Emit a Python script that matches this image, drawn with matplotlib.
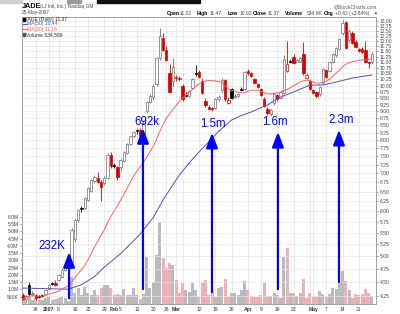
import matplotlib
matplotlib.use('Agg')
import matplotlib.pyplot as plt
import pandas as pd
from matplotlib.ticker import NullLocator, FixedLocator
from matplotlib.lines import Line2D

plt.rcParams['font.family'] = ['Liberation Sans', 'DejaVu Sans']

# daily OHLC for JADE, 19-Dec-2006 .. 25-May-2007 (bar index 0..107)
opens = [4.26, 4.20, 4.44, 4.28, 4.27, 4.25, 4.26, 4.28, 4.37, 4.48,
         4.48, 4.54, 4.60, 4.72, 4.80, 4.88, 5.35, 5.80, 6.09, 6.08,
         6.28, 6.52, 6.78, 6.88, 6.76, 6.72, 6.88, 7.54, 7.24, 7.18,
         7.18, 7.36, 7.60, 7.88, 8.14, 8.33, 8.33, 8.20, 9.00, 9.35,
         9.55, 10.05, 11.20, 12.15, 11.55, 10.52, 10.20, 10.30, 10.28, 9.98,
         9.63, 9.60, 9.90, 10.52, 10.55, 10.20, 9.38, 9.18, 9.12, 9.12,
         9.45, 9.80, 10.22, 9.32, 9.85, 9.55, 9.60, 9.86, 9.85, 10.62,
         10.50, 10.25, 10.08, 9.85, 9.45, 9.10, 8.92, 9.30, 9.62, 9.50,
         9.70, 10.60, 11.05, 11.25, 11.02, 11.02, 11.35, 10.30, 10.20, 9.80,
         9.72, 9.65, 10.10, 10.65, 10.60, 11.00, 11.30, 11.60, 12.40, 12.95,
         12.03, 12.40, 11.95, 11.62, 11.58, 11.55, 11.02, 11.02]
highs = [4.30, 4.27, 4.50, 4.33, 4.29, 4.27, 4.29, 4.37, 4.46, 4.50,
         4.53, 4.64, 4.76, 4.82, 4.90, 5.60, 5.82, 6.05, 6.12, 6.36,
         6.62, 6.84, 6.95, 7.05, 6.80, 6.92, 7.60, 7.62, 7.30, 7.22,
         7.42, 7.65, 7.92, 8.16, 8.32, 8.38, 8.40, 8.65, 9.38, 9.65,
         10.05, 11.25, 12.65, 12.40, 11.75, 10.90, 11.20, 10.45, 10.40, 10.05,
         9.75, 9.82, 10.30, 10.85, 10.65, 10.30, 9.50, 9.22, 9.16, 9.50,
         9.62, 10.30, 10.28, 9.55, 9.90, 9.65, 9.70, 9.92, 10.60, 10.70,
         10.55, 10.30, 10.12, 9.90, 9.55, 9.15, 9.10, 9.70, 9.68, 9.80,
         11.30, 12.00, 11.15, 11.35, 11.15, 11.25, 11.95, 10.50, 10.25, 9.85,
         9.76, 10.00, 10.75, 10.70, 11.05, 11.40, 11.70, 12.15, 13.05, 13.00,
         12.60, 12.50, 12.05, 11.66, 11.70, 12.00, 11.06, 11.47]
lows = [4.18, 4.18, 4.25, 4.25, 4.19, 4.22, 4.24, 4.27, 4.35, 4.44,
        4.43, 4.52, 4.58, 4.70, 4.76, 4.85, 5.30, 5.75, 5.98, 6.05,
        6.25, 6.50, 6.72, 6.72, 6.25, 6.68, 6.85, 7.15, 7.15, 6.80,
        7.10, 7.32, 7.56, 7.85, 8.10, 8.22, 8.10, 8.15, 8.95, 9.30,
        9.45, 10.00, 11.10, 11.50, 11.05, 9.70, 10.00, 10.20, 10.20, 9.40,
        9.55, 9.55, 9.85, 10.40, 10.30, 9.65, 9.15, 9.05, 9.02, 9.08,
        9.40, 9.75, 9.40, 9.28, 9.45, 9.50, 9.56, 9.78, 9.80, 10.45,
        10.35, 10.10, 9.90, 9.58, 9.15, 8.88, 8.85, 9.25, 9.40, 9.45,
        9.65, 10.55, 10.95, 10.90, 10.98, 10.98, 10.45, 10.25, 9.82, 9.65,
        9.52, 9.60, 10.05, 10.30, 10.55, 10.95, 11.25, 11.55, 12.30, 11.60,
        11.95, 11.85, 11.65, 11.45, 11.40, 10.95, 10.75, 10.92]
closes = [4.20, 4.25, 4.28, 4.31, 4.21, 4.24, 4.25, 4.36, 4.45, 4.46,
          4.44, 4.63, 4.73, 4.80, 4.86, 5.55, 5.78, 6.02, 6.06, 6.33,
          6.58, 6.80, 6.90, 6.76, 6.62, 6.88, 7.54, 7.20, 7.22, 6.90,
          7.38, 7.62, 7.90, 8.14, 8.28, 8.30, 8.15, 8.60, 9.34, 9.60,
          10.00, 11.20, 12.25, 11.55, 11.08, 9.75, 10.80, 10.36, 10.33, 9.45,
          9.60, 9.78, 10.25, 10.48, 10.35, 9.70, 9.22, 9.10, 9.08, 9.45,
          9.56, 10.22, 9.45, 9.42, 9.52, 9.60, 9.66, 9.83, 10.55, 10.50,
          10.40, 10.12, 9.95, 9.62, 9.20, 8.95, 9.05, 9.65, 9.45, 9.72,
          11.15, 10.90, 11.00, 10.97, 11.08, 11.18, 10.52, 10.45, 9.85, 9.70,
          9.58, 9.95, 10.70, 10.35, 11.00, 11.35, 11.65, 12.10, 12.90, 11.65,
          12.50, 11.88, 11.70, 11.50, 11.45, 11.00, 10.95, 11.37]
# volume, millions of shares
volume = [0.60, 0.35, 0.55, 0.30, 0.45, 0.25, 0.30, 0.40, 0.45, 0.30,
          0.35, 0.40, 0.50, 0.40, 0.23, 1.85, 0.75, 1.10, 0.60, 1.15,
          0.75, 0.60, 0.95, 0.60, 1.10, 1.30, 1.30, 1.10, 0.60, 0.70,
          0.60, 1.00, 0.60, 0.60, 1.10, 0.60, 0.35, 0.70, 3.25, 1.10,
          1.50, 3.35, 5.65, 3.15, 2.45, 2.80, 2.70, 1.65, 0.75, 1.45,
          0.96, 0.83, 1.45, 0.96, 0.50, 1.45, 1.65, 0.60, 0.90, 0.50,
          1.10, 1.20, 1.70, 0.50, 0.75, 0.78, 0.60, 0.96, 1.60, 0.96,
          0.55, 0.50, 0.50, 0.60, 1.45, 0.55, 0.55, 0.75, 0.60, 0.40,
          3.25, 3.85, 0.75, 0.75, 0.55, 0.75, 1.70, 0.40, 0.75, 0.55,
          0.50, 0.90, 0.70, 0.50, 0.70, 1.10, 1.00, 1.50, 2.30, 1.55,
          0.95, 0.40, 0.70, 0.60, 0.70, 1.00, 0.75, 0.53]

ma50_idx = [0, 7, 14, 18, 22, 25, 30, 33, 36, 40, 43, 46, 48, 51, 54, 57, 60,
            64, 67, 70, 75, 79, 83, 88, 92, 96, 101, 107]
ma50 = [4.39, 4.38, 4.37, 4.45, 4.60, 4.78, 5.05, 5.25, 5.47, 5.85, 6.28, 6.68,
        6.95, 7.30, 7.63, 7.95, 8.30, 8.69, 8.85, 8.98, 9.24, 9.54, 9.74, 10.02,
        10.02, 10.14, 10.31, 10.44]

tick_idx = [4, 8, 11, 16, 20, 25, 28, 30, 35, 40, 44, 47, 54, 59, 64, 69, 73, 78, 83, 89, 93, 98, 103]
tick_lab = ['26', '2007', '8', '16', '22', '29', 'Feb', '5', '12', '20', '26', 'Mar',
            '12', '19', '26', 'Apr', '9', '16', '23', 'May', '7', '14', '21']
month_lab = ['2007', 'Feb', 'Mar', 'Apr', 'May']
week_idx = [49, 88]

price_ticks = [4.25 + 0.25 * k for k in range(36)]
vol_ticks = [0.5 * k for k in range(1, 13)]
vol_lab = ['500K'] + ['%.1fM' % v for v in vol_ticks[1:]]

# arrows: (bar, tail price, tip price, label, label bar, label price)
notes = [(14.2, 4.21, 5.08, '232K', 8.8, 5.21),
         (36.85, 4.37, 8.41, '692k', 38.1, 8.62),
         (58.0, 4.32, 8.25, '1.5m', 58.4, 8.55),
         (78.2, 4.37, 8.28, '1.6m', 77.3, 8.62),
         (96.9, 4.50, 8.35, '2.3m', 97.5, 8.69)]

RED = '#d40000'
GREY = '#6e6e6e'
n = len(closes)
idx = list(range(n))
ma20 = pd.Series(closes).rolling(20, min_periods=1).mean()

face, edge, vcol = [], [], []
for i in idx:
    prev = closes[i - 1] if i > 0 else opens[i]
    up_day = closes[i] >= prev
    if closes[i] >= opens[i]:
        face.append('white')
        edge.append(GREY if up_day else RED)
    else:
        c = 'black' if up_day else RED
        face.append(c)
        edge.append(c)
    vcol.append('#bababa' if up_day else '#ecb0b8')

fig = plt.figure(figsize=(4, 3.14), dpi=100)
axv = fig.add_axes([22 / 400, 10 / 314, 354 / 400, 287 / 314])
ax = axv.twinx()

# volume underneath
axv.bar(idx, volume, width=0.92, color=vcol, linewidth=0, zorder=2)
axv.set_ylim(0, 19.73)
axv.set_xlim(-0.21, 108.24)
axv.yaxis.set_major_locator(FixedLocator(vol_ticks))
axv.set_yticklabels(vol_lab)
axv.tick_params(axis='y', labelsize=3.6, length=1.5, pad=1, colors='#444444', width=0.4)
axv.set_xticks(tick_idx)
axv.set_xticklabels(tick_lab)
axv.set_xticks(week_idx, minor=True)
axv.tick_params(axis='x', which='both', length=0, labelsize=3.6, pad=2.5, colors='#333333')
for t in axv.get_xticklabels():
    if t.get_text() in month_lab:
        t.set_fontweight('bold')
axv.grid(axis='x', which='both', color='#e2e2e2', lw=0.5, zorder=0)
axv.set_axisbelow(True)

# price on log scale
ax.set_yscale('log')
ax.set_ylim(4.115, 13.21)
ax.yaxis.set_major_locator(FixedLocator(price_ticks))
ax.yaxis.set_minor_locator(NullLocator())
ax.set_yticklabels(['%.2f' % p for p in price_ticks])
ax.tick_params(axis='y', labelsize=3.6, length=1.5, pad=1, colors='#444444', width=0.4)
ax.grid(axis='y', color='#e6e6e6', lw=0.5, zorder=0)
ax.set_axisbelow(True)

ax.vlines(idx, lows, highs, colors=edge, lw=0.6, zorder=3)
bottoms = [min(o, c) for o, c in zip(opens, closes)]
heights = [max(abs(c - o), 0.012) for o, c in zip(opens, closes)]
ax.bar(idx, heights, bottom=bottoms, width=0.72, color=face, edgecolor=edge,
       linewidth=0.5, zorder=4)

ax.plot(ma50_idx, ma50, color='#5050b4', lw=0.7, zorder=5)
ax.plot(idx, ma20, color='#ff5a5a', lw=0.7, zorder=5)

for xa, p0, p1, lab, xt, pt in notes:
    ax.annotate('', xy=(xa, p1), xytext=(xa, p0),
                arrowprops=dict(arrowstyle='-|>,head_length=0.9,head_width=0.35',
                                color='#0000ff', lw=1.6, mutation_scale=10,
                                shrinkA=0, shrinkB=0), zorder=6)
    ax.text(xt, pt, lab, color='#0000ff', fontsize=8.3, ha='center', va='center', zorder=7)

for s in list(ax.spines.values()) + list(axv.spines.values()):
    s.set_color('#a0a0a0')
    s.set_linewidth(0.6)


def ftxt(x, y, s, **kw):
    kw.setdefault('fontsize', 3.6)
    kw.setdefault('color', '#222222')
    fig.text(x / 400, 1 - y / 314, s, va='center', ha='left', **kw)


# header
ftxt(22, 6.5, 'JADE', fontsize=5.2, fontweight='bold', color='black')
ftxt(40, 6.8, '(LJ Intl, Inc.) Nasdaq GM', fontsize=3.4, color='#444444')
ftxt(22, 12.5, '25-May-2007', fontsize=3.4, color='#444444')
ftxt(334, 6.5, '@StockCharts.com', fontsize=3.6, color='#555555')
head = [(167, 'Open', True), (180, '11.02', False), (197, 'High', True), (210, '11.47', False),
        (228, 'Low', True), (240, '10.92', False), (253, 'Close', True), (268, '11.37', False),
        (285, 'Volume', True), (307, '534.6K', False), (324, 'Chg', True),
        (335, '+0.42 (+3.84%)', False)]
for x, s, b in head:
    ftxt(x, 13.3, s, fontweight='bold' if b else 'normal', color='black' if b else '#444444')
ftxt(373, 13, '▲', fontsize=2.8, color='#006600')

# legend inside plot
fig.add_artist(plt.Rectangle((22.5 / 400, 1 - 20.5 / 314), 2 / 400, 3 / 314,
                             transform=fig.transFigure, color='black'))
ftxt(25, 19, 'JADE (Daily) 11.37', color='#333333')
fig.add_artist(Line2D([22.5 / 400, 26.5 / 400], [1 - 24 / 314] * 2, color='#5050b4', lw=0.8))
ftxt(27, 24, 'MA(50) 10.44', color='#5050b4')
fig.add_artist(Line2D([22.5 / 400, 26.5 / 400], [1 - 29.3 / 314] * 2, color='#ff5a5a', lw=0.8))
ftxt(27, 29.3, 'MA(20) 11.16', color='#ff5a5a')
fig.add_artist(plt.Rectangle((22.5 / 400, 1 - 36 / 314), 2.5 / 400, 3 / 314,
                             transform=fig.transFigure, color='#555555'))
ftxt(26, 34.5, 'Volume 534,589', color='#333333')

# strip at the very top of the screenshot
for x0, w, c in [(0, 22, '#cfcfcf'), (67, 14, '#9a9a9a'), (97, 103, '#111111')]:
    fig.add_artist(plt.Rectangle((x0 / 400, 1 - 2.5 / 314), w / 400, 2.5 / 314,
                                 transform=fig.transFigure, color=c))

fig.savefig('out.png', dpi=100)
